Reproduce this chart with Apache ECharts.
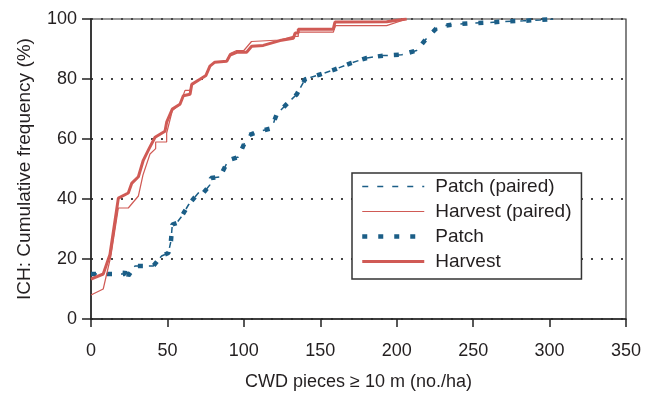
<!DOCTYPE html>
<html>
<head>
<meta charset="utf-8">
<script src="https://cdn.jsdelivr.net/npm/echarts@6/dist/echarts.min.js"></script>
<style>html,body{margin:0;padding:0;background:#fff;}#c{width:653px;height:396px;}</style>
</head>
<body>
<div id="c"></div>
<script>
var xTicks = [0, 50, 100, 150, 200, 250, 300, 350];
var yTicks = [0, 20, 40, 60, 80, 100];
var seriesNames = ['Patch (paired)', 'Harvest (paired)', 'Patch', 'Harvest'];

var harvestX = [0, 8, 12.4, 17.9, 24.4, 26.6, 31, 34.2, 38, 41.9, 48.4, 49.5, 53.2, 58.2, 60.4, 64.8, 65.9, 71.3, 75.2, 77.8, 81, 88.8, 91, 95.3, 101.8, 105.1, 112.7, 123.6, 132.4, 133.5, 135.6, 135.6, 158.5, 159.6, 193.4, 206.5];
var harvestY = [13.3, 15, 21.5, 40.3, 42, 45.2, 47.4, 52.9, 56.8, 60.6, 62.6, 65.6, 70, 71.6, 74.4, 74.9, 78.2, 79.9, 81.2, 84.3, 85.6, 85.9, 88, 88.9, 88.9, 90.9, 91.2, 92.8, 93.6, 95.3, 95.3, 96.6, 96.6, 99, 99.1, 100];

var harvestPairedX = [0, 8, 13, 17.9, 24.4, 31, 34, 38.6, 42.3, 42.3, 49.5, 49.5, 53.2, 58.2, 61.5, 64.8, 65.9, 71.3, 75.2, 77.8, 81, 88.8, 91, 95.3, 100, 105, 123.6, 132.4, 135.6, 135.6, 158.5, 160, 193.4, 206.5];
var harvestPairedY = [8, 10, 21, 37, 37, 41, 48, 55, 56.8, 59, 59, 62, 69.5, 71.6, 76.2, 76.2, 78.2, 79.9, 81.2, 84.3, 85.6, 85.9, 88.5, 89.5, 89.5, 92.5, 93, 94.2, 94.2, 95.6, 95.6, 97.8, 97.8, 100];

var patchX = [0, 15.7, 22, 22.5, 24.4, 28.8, 40.8, 46.2, 50.6, 52.3, 53.2, 56, 59.3, 63.7, 70.2, 73.5, 77.8, 78.5, 84.4, 89.8, 96.4, 100.7, 102.9, 108.4, 118.2, 121.5, 128, 134.6, 140, 149.8, 159.6, 170.5, 180.4, 191.2, 203.3, 213, 219.6, 227.2, 238.1, 249, 259.9, 270.8, 282.8, 293.7, 302.4];
var patchY = [15, 15, 15, 17.2, 14.4, 17.7, 17.7, 21, 22, 26, 31.5, 32, 34.2, 38, 42, 42, 44.7, 47, 47.4, 52.9, 54, 59, 61.2, 62.3, 63.6, 68.3, 71.6, 74.9, 79.9, 81.5, 83.2, 85.4, 87, 87.8, 88.1, 89.5, 93.6, 97.5, 98.2, 98.6, 98.8, 99.2, 99.4, 99.7, 100];

var patchPairedX = [0, 15.7, 22, 22.5, 24.4, 28.8, 40.8, 46.2, 50.6, 52.3, 53.2, 56, 59.3, 63.7, 70.2, 73.5, 77.8, 78.5, 84.4, 89.8, 96.4, 100.7, 102.9, 108.4, 118.2, 121.5, 128, 134.6, 140, 149.8, 159.6, 170.5, 180.4, 191.2, 203.3, 213, 219.6, 227.2, 238.1, 249, 259.9, 270.8, 282.8, 293.7, 302.4];
var patchPairedY = [15, 15, 15, 17.2, 14.4, 17.7, 17.7, 21, 22, 26, 31.5, 32, 34.2, 38, 42, 42, 44.7, 47, 47.4, 52.9, 54, 59, 61.2, 62.3, 63.6, 68.3, 71.6, 74.9, 79.9, 81.5, 83.2, 85.4, 87, 87.8, 88.1, 89.5, 93.6, 97.5, 98.2, 98.6, 98.8, 99.2, 99.4, 99.7, 100];

function pairs(xs, ys) { return xs.map(function (x, i) { return [x, ys[i]]; }); }

var BLUE = '#1b5e87';
var RED = '#d05a55';
var TXT = '#231f20';
var FONT = '"Liberation Sans", Arial, sans-serif';

var styles = [
  { color: BLUE, width: 1.5, type: [6, 9] },
  { color: RED, width: 1.2, type: 'solid' },
  { color: BLUE, width: 4.5, type: [5, 11] },
  { color: RED, width: 3, type: 'solid' }
];
var datasets = [
  pairs(patchPairedX, patchPairedY),
  pairs(harvestPairedX, harvestPairedY),
  pairs(patchX, patchY),
  pairs(harvestX, harvestY)
];
var zs = [2, 3, 2, 4];

var chart = echarts.init(document.getElementById('c'), null, { renderer: 'canvas' });
chart.setOption({
  animation: false,
  backgroundColor: '#fff',
  textStyle: { fontFamily: FONT },
  grid: { left: 91, right: 27, top: 19, bottom: 74, show: true, borderColor: '#333', borderWidth: 1.2, backgroundColor: 'transparent' },
  legend: {
    orient: 'vertical',
    left: 352, top: 173,
    data: seriesNames.map(function (n, i) {
      return { name: n, lineStyle: { color: styles[i].color, width: styles[i].width, type: styles[i].type } };
    }),
    itemWidth: 62, itemHeight: 18, itemGap: 6,
    padding: [4, 10, 8, 8],
    borderColor: '#333', borderWidth: 1.5,
    backgroundColor: '#fff',
    itemStyle: { opacity: 0 },
    textStyle: { fontSize: 19, color: TXT, fontFamily: FONT, padding: [0, 0, 0, 6] }
  },
  xAxis: {
    type: 'value', min: xTicks[0], max: xTicks[xTicks.length - 1], interval: 50,
    name: 'CWD pieces \u2265 10 m (no./ha)', nameLocation: 'middle', nameGap: 54,
    nameTextStyle: { fontSize: 18, color: TXT, fontFamily: FONT },
    axisLine: { show: true, lineStyle: { color: '#222', width: 1.5 } },
    axisTick: { show: true, inside: false, length: 8, lineStyle: { color: '#222', width: 1.5 } },
    axisLabel: { fontSize: 18, color: TXT, margin: 23, fontFamily: FONT },
    splitLine: { show: false }
  },
  yAxis: {
    type: 'value', min: yTicks[0], max: yTicks[yTicks.length - 1], interval: 20,
    name: 'ICH: Cumulative frequency (%)', nameLocation: 'middle', nameGap: 57,
    nameTextStyle: { fontSize: 19, color: TXT, fontFamily: FONT },
    axisLine: { show: true, lineStyle: { color: '#222', width: 1.5 } },
    axisTick: { show: true, inside: false, length: 9, lineStyle: { color: '#222', width: 1.5 } },
    axisLabel: { fontSize: 18, color: TXT, margin: 14, fontFamily: FONT },
    splitLine: { show: true, lineStyle: { color: '#444', width: 2, type: [2, 8] } }
  },
  series: seriesNames.map(function (n, i) {
    return {
      name: n, type: 'line', data: datasets[i], symbol: 'none', z: zs[i],
      lineStyle: styles[i], itemStyle: { color: styles[i].color }
    };
  })
});
</script>
</body>
</html>
